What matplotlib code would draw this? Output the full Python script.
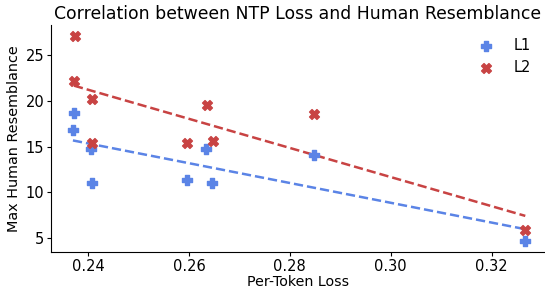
import numpy as np
import matplotlib
matplotlib.use("Agg")
import matplotlib.pyplot as plt

# per-token loss and max human resemblance
loss_l1 = [0.2372, 0.2370, 0.2406, 0.2408, 0.2596, 0.2634, 0.2645, 0.2848, 0.3267]
res_l1 = [18.7, 16.8, 14.75, 11.0, 11.4, 14.75, 11.0, 14.1, 4.7]
loss_l2 = [0.2374, 0.2372, 0.2408, 0.2408, 0.2596, 0.2636, 0.2648, 0.2848, 0.3267]
res_l2 = [27.1, 22.2, 20.2, 15.4, 15.4, 19.5, 15.6, 18.6, 5.9]

BLUE = "#5b84e6"
RED = "#c84343"

fig, ax = plt.subplots(figsize=(5.45, 2.93), dpi=100)
for x, y, c, m, lab in [(loss_l1, res_l1, BLUE, "P", "L1"),
                        (loss_l2, res_l2, RED, "X", "L2")]:
    ax.scatter(x, y, color=c, marker=m, s=50, label=lab, zorder=3)
    k, b = np.polyfit(x, y, 1)
    xs = np.array([min(x), max(x)])
    ax.plot(xs, k * xs + b, "--", color=c, lw=1.8, zorder=2)

ax.set_xlim(0.2327, 0.3305)
ax.set_ylim(3.5, 28.3)
ax.set_xticks([0.24, 0.26, 0.28, 0.30, 0.32])
ax.set_yticks([5, 10, 15, 20, 25])
ax.set_xticklabels(["0.24", "0.26", "0.28", "0.30", "0.32"])
ax.tick_params(labelsize=10.5, length=3, pad=2)
ax.set_xlabel("Per-Token Loss", fontsize=10.3, labelpad=1)
ax.set_ylabel("Max Human Resemblance", fontsize=10.4, labelpad=3)
ax.set_title("Correlation between NTP Loss and Human Resemblance", fontsize=12.4, pad=4)
for s in ("top", "right"):
    ax.spines[s].set_visible(False)
ax.legend(frameon=False, fontsize=10.5, loc="upper right", handletextpad=0.9,
          bbox_to_anchor=(1.0, 1.0))
fig.subplots_adjust(left=0.094, right=0.999, top=0.915, bottom=0.14)
fig.savefig("out.png", dpi=100)
